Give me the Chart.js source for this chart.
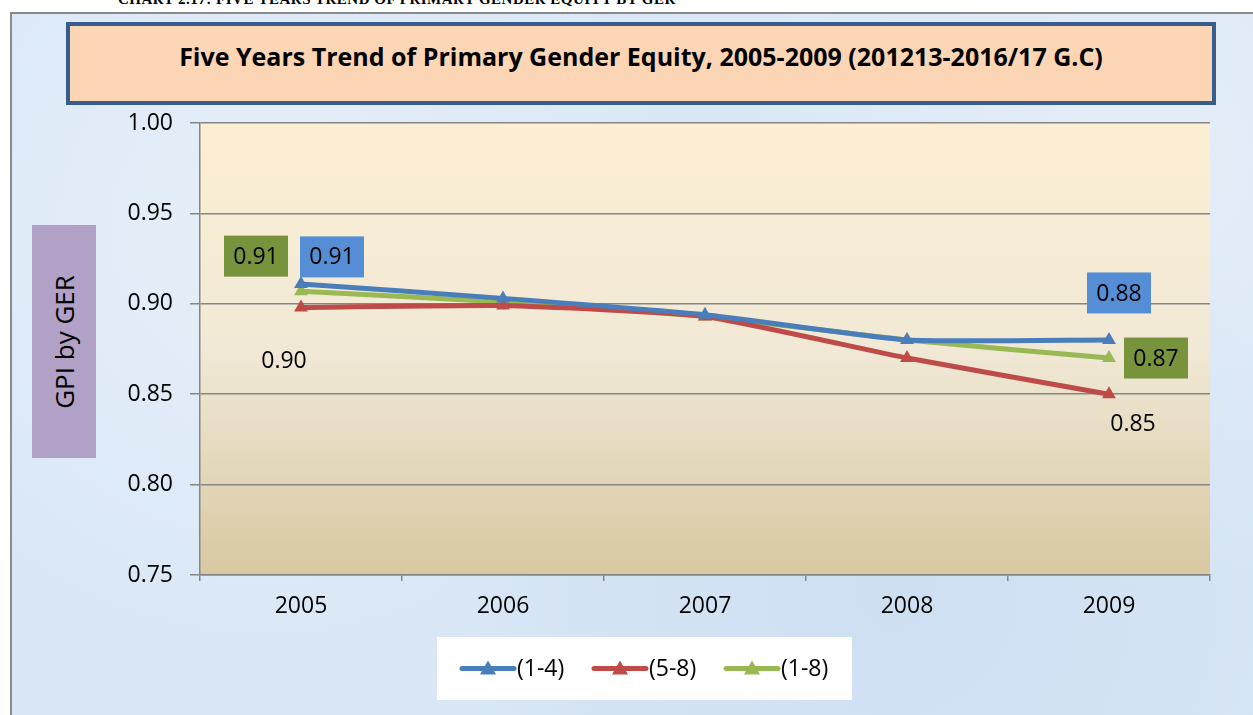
<!DOCTYPE html>
<html>
<head>
<meta charset="utf-8">
<script src="https://cdn.jsdelivr.net/npm/chart.js@4.4.1/dist/chart.umd.min.js"></script>
<style>
  html, body { margin: 0; padding: 0; background: #fff; }
  body { width: 1253px; height: 715px; position: relative; overflow: hidden; font-family: "Open Sans", sans-serif; }
  #heading { position: absolute; left: 118px; top: -9px; font: bold 15px "Liberation Serif", serif; color: #000; white-space: nowrap; letter-spacing: 0.5px; }
  #frame {
    position: absolute; left: 10px; top: 12px; width: 1260px; height: 720px;
    border-left: 2px solid #8a8a8a; border-top: 2px solid #8a8a8a;
    background:
      radial-gradient(circle at 20% 30%, rgba(255,255,255,0.35), transparent 40%),
      radial-gradient(circle at 70% 80%, rgba(190,210,235,0.4), transparent 45%),
      radial-gradient(circle at 90% 20%, rgba(255,255,255,0.3), transparent 35%),
      #d9e7f6;
  }
  #title {
    position: absolute; left: 66px; top: 22px; width: 1142px; height: 75px;
    background: #fcd5b4; border: 4px solid #385d8a; box-sizing: content-box;
    text-align: center; font: bold 25px "Open Sans", sans-serif; line-height: 60px; color: #000;
  }
  #ylab {
    position: absolute; left: 32px; top: 225px; width: 64px; height: 233px; background: #b2a1c7;
  }
  #ylab span {
    position: absolute; left: 50%; top: 50%; transform: translate(-50%, -50%) rotate(-90deg);
    white-space: nowrap; font: 26px "Open Sans", sans-serif; color: #000;
  }
  #wrap { position: absolute; left: 0; top: 0; width: 1253px; height: 715px; }
</style>
</head>
<body>
<div id="heading">CHART 2.17: FIVE YEARS TREND OF PRIMARY GENDER EQUITY BY GER</div>
<div id="frame"></div>
<div id="title">Five Years Trend of Primary Gender Equity, 2005-2009 (201213-2016/17 G.C)</div>
<div id="ylab"><span>GPI by GER</span></div>
<div id="wrap"><canvas id="myChart" width="1253" height="715"></canvas></div>
<script>
const years = ['2005', '2006', '2007', '2008', '2009'];
const grade14 = [0.911, 0.903, 0.894, 0.880, 0.880];
const grade58 = [0.898, 0.899, 0.893, 0.870, 0.850];
const grade18 = [0.907, 0.901, 0.893, 0.880, 0.870];
const yTicks = [0.75, 0.80, 0.85, 0.90, 0.95, 1.00];

// which points get a value label, and how it looks
const pointLabels = [
  { ds: 0, i: 0, box: '#558ed5', dx: 31, dy: -27 },
  { ds: 2, i: 0, box: '#77933c', dx: -45, dy: -35 },
  { ds: 1, i: 0, box: null, dx: -17, dy: 53 },
  { ds: 0, i: 4, box: '#558ed5', dx: 10, dy: -47 },
  { ds: 2, i: 4, box: '#77933c', dx: 47, dy: 0 },
  { ds: 1, i: 4, box: null, dx: 24, dy: 29 }
];

const plotBg = {
  id: 'plotBg',
  beforeDraw(chart) {
    const { ctx, chartArea: a } = chart;
    const g = ctx.createLinearGradient(0, a.top, 0, a.bottom);
    g.addColorStop(0, '#fdefd3');
    g.addColorStop(0.5, '#f1e9d6');
    g.addColorStop(1, '#d8c8a2');
    ctx.save();
    ctx.fillStyle = g;
    ctx.fillRect(a.left, a.top, a.right - a.left, a.bottom - a.top);
    ctx.restore();
  }
};

const valueLabels = {
  id: 'valueLabels',
  afterDatasetsDraw(chart) {
    const ctx = chart.ctx;
    ctx.save();
    ctx.font = '23px "Open Sans", sans-serif';
    ctx.textAlign = 'center';
    ctx.textBaseline = 'middle';
    pointLabels.forEach(l => {
      const pt = chart.getDatasetMeta(l.ds).data[l.i];
      const v = chart.data.datasets[l.ds].data[l.i];
      const x = pt.x + l.dx, y = pt.y + l.dy;
      if (l.box) {
        ctx.fillStyle = l.box;
        ctx.fillRect(x - 32, y - 20.5, 64, 41);
      }
      ctx.fillStyle = '#000';
      ctx.fillText(v.toFixed(2), x, y + 1);
    });
    ctx.restore();
  }
};

const legendBox = {
  id: 'legendBox',
  afterDraw(chart) {
    const ctx = chart.ctx;
    const left = 437, top = 637, w = 415, h = 63;
    ctx.save();
    ctx.fillStyle = '#fff';
    ctx.fillRect(left, top, w, h);
    ctx.font = '23px "Open Sans", sans-serif';
    ctx.textBaseline = 'middle';
    const cy = top + h / 2;
    let x = left + 25;
    chart.data.datasets.forEach(ds => {
      ctx.strokeStyle = ds.borderColor;
      ctx.lineWidth = 5;
      ctx.lineCap = 'round';
      ctx.beginPath();
      ctx.moveTo(x, cy);
      ctx.lineTo(x + 52, cy);
      ctx.stroke();
      ctx.fillStyle = ds.borderColor;
      ctx.beginPath();
      ctx.moveTo(x + 26, cy - 8);
      ctx.lineTo(x + 34, cy + 6);
      ctx.lineTo(x + 18, cy + 6);
      ctx.closePath();
      ctx.fill();
      ctx.fillStyle = '#000';
      ctx.fillText(ds.label, x + 55, cy + 1);
      x += 132;
    });
    ctx.restore();
  }
};

const makeSet = (label, data, color) => ({
  label: label,
  data: data,
  borderColor: color,
  backgroundColor: color,
  borderWidth: 5,
  pointStyle: 'triangle',
  pointRadius: 8,
  pointBorderWidth: 0,
  tension: 0.15
});

const ctx = document.getElementById('myChart').getContext('2d');
const chart = new Chart(ctx, {
  type: 'line',
  data: {
    labels: years,
    datasets: [
      makeSet('(1-4)', grade14, '#4a7ebb'),
      makeSet('(5-8)', grade58, '#be4b48'),
      makeSet('(1-8)', grade18, '#98b954')
    ]
  },
  plugins: [plotBg, valueLabels, legendBox],
  options: {
    responsive: false,
    animation: false,
    layout: { padding: { left: 0, top: 123, right: 43, bottom: 0 } },
    plugins: { legend: { display: false }, tooltip: { enabled: false } },
    scales: {
      x: {
        offset: true,
        afterFit: s => { s.height = 140; },
        grid: { drawOnChartArea: false, offset: true, tickLength: 6, color: '#868686', lineWidth: 1.5 },
        border: { color: '#868686', width: 1.5 },
        ticks: { color: '#000', font: { size: 23, family: '"Open Sans", sans-serif' }, padding: 12 }
      },
      y: {
        min: 0.75,
        max: 1.00,
        afterFit: s => { s.width = 200; },
        afterBuildTicks: s => { s.ticks = yTicks.map(v => ({ value: v })); },
        grid: { color: '#868686', lineWidth: 1.5, tickLength: 10 },
        border: { color: '#868686', width: 1.5 },
        ticks: {
          color: '#000',
          font: { size: 23, family: '"Open Sans", sans-serif' },
          padding: 17,
          callback: v => v.toFixed(2)
        }
      }
    }
  }
});
</script>
</body>
</html>
